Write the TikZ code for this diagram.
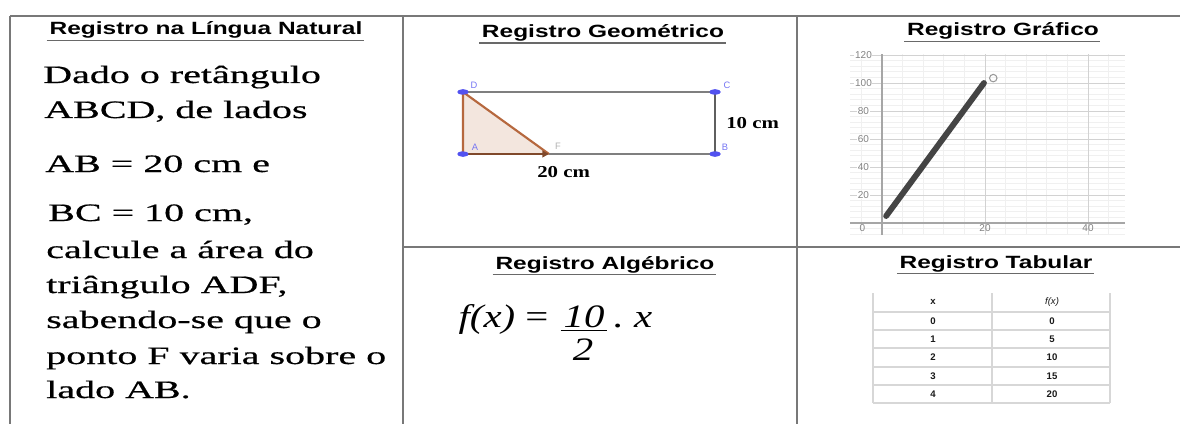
\documentclass[tikz,border=0pt]{standalone}
\usepackage{fontspec}
\usepackage{xcolor}
\usetikzlibrary{shapes.geometric,arrows.meta}

\newfontfamily\titlefont[FakeStretch=1.38]{Liberation Sans}
\newfontfamily\bodyfont[FakeStretch=1.6,FakeBold=0.6]{Liberation Serif}
\newfontfamily\labelfont[FakeStretch=1.25]{Liberation Serif}
\newfontfamily\smallfont{Liberation Sans}

\definecolor{framegray}{RGB}{120,120,120}
\definecolor{ulgray}{RGB}{105,105,105}
\definecolor{edgebrown}{RGB}{182,104,62}
\definecolor{trifill}{RGB}{243,230,222}
\definecolor{rectgray}{RGB}{95,95,95}
\definecolor{ptblue}{RGB}{82,82,240}
\definecolor{tickgray}{RGB}{130,130,130}
\definecolor{plotgray}{RGB}{68,68,68}
\definecolor{tabline}{RGB}{215,215,215}

\tikzset{
  frame/.style={draw=framegray, line width=1.4pt},
  regtitle/.style={anchor=base, inner sep=0pt, font=\titlefont\bfseries\fontsize{13.3}{16}\selectfont},
  uline/.style={draw=ulgray, line width=1.1pt},
  bodytext/.style={anchor=base west, inner sep=0pt, font=\bodyfont\fontsize{18.75}{22}\selectfont},
  pt/.style={ellipse, fill=ptblue, minimum width=8.5pt, minimum height=4pt, inner sep=0pt},
  ptlabel/.style={text=ptblue!80, inner sep=0pt, font=\smallfont\fontsize{7}{8}\selectfont},
  measure/.style={anchor=base west, inner sep=0pt, font=\labelfont\bfseries\fontsize{12.5}{14}\selectfont},
  formula/.style={anchor=base, inner sep=1pt, font=\labelfont\itshape\fontsize{24.5}{28}\selectfont},
  minorgrid/.style={draw=gray!12, line width=0.5pt},
  majorgrid/.style={draw=gray!35, line width=0.6pt},
  ticklabel/.style={text=tickgray, inner sep=0pt, font=\smallfont\fontsize{7.5}{8}\selectfont},
  tabtext/.style={text=black!90, inner sep=0pt, font=\smallfont\bfseries\fontsize{7.2}{8}\selectfont}
}

\begin{document}
\begin{tikzpicture}[x=0.75pt, y=-0.75pt]
\useasboundingbox (0,0) rectangle (1180,424);

% Frame
\draw[frame] (10,16) -- (1180,16);
\draw[frame] (10,16) -- (10,424);
\draw[frame] (403,16) -- (403,424);
\draw[frame] (797,16) -- (797,424);
\draw[frame] (403,247) -- (1180,247);

% Titles
\node[regtitle] (tnat) at (206,35) {Registro na Língua Natural};
\node[regtitle] (tgeo) at (603,37.5) {Registro Geométrico};
\node[regtitle] (tgra) at (1003,36) {Registro Gráfico};
\node[regtitle] (talg) at (605,269) {Registro Algébrico};
\node[regtitle] (ttab) at (996,268) {Registro Tabular};
\foreach \t in {tnat,tgeo,tgra,talg,ttab} {
    \draw[uline] ([xshift=-2pt,yshift=-4pt]\t.base west) -- ([xshift=1pt,yshift=-4pt]\t.base east);
}

% Natural language
\foreach \xx/\yy/\txt [count=\i] in {43/83/{Dado o retângulo}, 44/118/{ABCD, de lados},
    45/172/{AB = 20 cm e}, 48/221/{BC = 10 cm,}, 46/258/{calcule a área do},
    46/293/{triângulo ADF,}, 46/328/{sabendo-se que o}, 46/364/{ponto F varia sobre o},
    46/398/{lado AB.}} {
    \node[bodytext] (line\i) at (\xx,\yy) {\txt};
}

% Geometric figure
\node[pt] (D) at (463,92) {};
\node[pt] (C) at (715,92) {};
\node[pt] (A) at (463,154) {};
\node[pt] (B) at (715,154) {};
\coordinate (F) at (549,154);
\fill[trifill] (D.center) -- (A.center) -- (F) -- cycle;
\draw[rectgray!80, line width=1pt] (D.center) -- (C.center);
\draw[rectgray!80, line width=1pt] (F) -- (B.center);
\draw[rectgray, line width=2pt] (C.center) -- (B.center);
\draw[edgebrown, line width=1.6pt] (A.center) -- (D.center) -- (F);
\draw[edgebrown!70!black, line width=1.6pt, -{Triangle[length=5pt,width=5pt]}] (A.center) -- (F);
\node[pt] at (D) {};
\node[pt] at (C) {};
\node[pt] at (A) {};
\node[pt] at (B) {};
\node[ptlabel] (lD) at (474,85) {D};
\node[ptlabel] (lC) at (727,85) {C};
\node[ptlabel] (lA) at (475,147) {A};
\node[ptlabel] (lB) at (725,147) {B};
\node[ptlabel, text=gray!60] (lF) at (558,146) {F};
\node[measure] (h10) at (726,128) {10 cm};
\node[measure] (w20) at (537,177) {20 cm};

% Graph
\begin{scope}[shift={(882,223)}, x=3.8625pt, y=1.05pt]
\foreach \gx in {-4,0,...,44} \draw[minorgrid] (\gx,-8.5) -- (\gx,121);
\foreach \gy in {-8,-4,...,120} \draw[minorgrid] (-6.2,\gy) -- (47.2,\gy);
\foreach \gx in {0,20,40} \draw[majorgrid] (\gx,-8.5) -- (\gx,121);
\foreach \gy in {20,40,...,120} \draw[majorgrid] (-6.2,\gy) -- (47.2,\gy);
\draw[draw=gray!70, line width=0.8pt] (-6.2,0) -- (47.2,0);
\draw[draw=gray!70, line width=0.8pt] (0,-8.5) -- (0,121);
\foreach \gy in {20,40,...,120} \node[ticklabel, fill=white, inner sep=0.5pt] (yl\gy) at (-3.6,\gy) {\gy};
\node[ticklabel] (xl0) at (-3.8,-3.8) {0};
\node[ticklabel] (xl20) at (20,-3.8) {20};
\node[ticklabel] (xl40) at (40,-3.8) {40};
\coordinate (p0) at (0.8,5);
\coordinate (p1) at (19.8,100);
\draw[plotgray, line width=4.4pt, line cap=round] (p0) -- (p1);
\draw[gray!80, line width=0.8pt] (21.6,103.5) circle (2.8pt);
\end{scope}

% Algebraic
\node[formula, anchor=base west] (fx) at (457,327) {f(x) \upshape= };
\node[formula] (num) at (584,327) {10};
\node[formula] (den) at (583,360) {2};
\node[formula, anchor=base west] (dx) at (612,327) {.\ x};
\draw[black, line width=1.1pt] ([xshift=-1pt,yshift=-2.5pt]num.base west) -- ([xshift=1pt,yshift=-2.5pt]num.base east);

% Table
\foreach \ty in {312,330,348,367,385,403} \draw[tabline, line width=1pt] (873,\ty) -- (1110,\ty);
\foreach \tx in {873,992,1110} \draw[tabline, line width=1pt] (\tx,293) -- (\tx,403);
\node[tabtext] (hx) at (933,302) {x};
\node[tabtext] (hf) at (1052,302) {\mdseries\itshape f(x)};
\foreach \xv/\fv/\ty [count=\r] in {0/0/321, 1/5/339, 2/10/357, 3/15/376, 4/20/394} {
    \node[tabtext] (cx\r) at (933,\ty) {\xv};
    \node[tabtext] (cf\r) at (1052,\ty) {\fv};
}

\end{tikzpicture}
\end{document}
